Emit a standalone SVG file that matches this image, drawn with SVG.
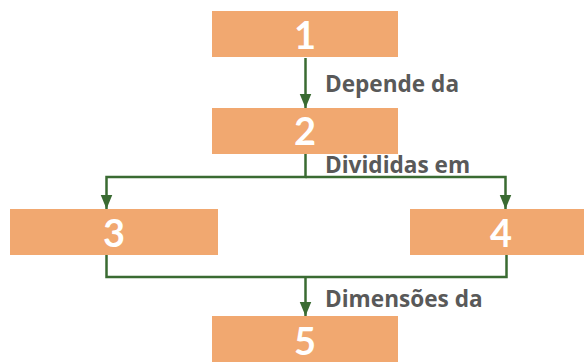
<svg xmlns="http://www.w3.org/2000/svg" width="584" height="362" viewBox="0 0 584 362">
<defs>
<style>
.box{fill:#F1A870}
.num{font-family:Lato,"Open Sans",sans-serif;font-weight:bold;font-size:38px;fill:#ffffff;text-anchor:middle}
.lbl{font-family:"Open Sans",Lato,sans-serif;font-weight:bold;font-size:22.6px;fill:#595959}
.con{fill:none;stroke:#3A6B32;stroke-width:2.5}
</style>
<marker id="ah" markerUnits="userSpaceOnUse" markerWidth="14" markerHeight="18" refX="17" refY="7" orient="auto" viewBox="0 0 17 14">
<path d="M0,0 L17,7 L0,14 Z" fill="#3A6B32"/>
</marker>
</defs>
<rect width="584" height="362" fill="#ffffff"/>
<g id="connectors">
<path class="con" d="M305.5,58 V108" marker-end="url(#ah)"/>
<path class="con" d="M305.5,154 V177 H106.5 V209" marker-end="url(#ah)"/>
<path class="con" d="M305.5,177 H505.5 V209" marker-end="url(#ah)"/>
<path class="con" d="M106.5,255 V277 H506.5 V255"/>
<path class="con" d="M305.5,277 V316" marker-end="url(#ah)"/>
<text class="lbl" x="325" y="92">Depende da</text>
<text class="lbl" x="325" y="173">Divididas em</text>
<text class="lbl" x="325" y="307">Dimensões da</text>
</g>
<g id="node1"><rect class="box" x="212" y="11" width="186" height="46"/><text class="num" x="305" y="49">1</text></g>
<g id="node2"><rect class="box" x="212" y="108" width="186" height="46"/><text class="num" x="305" y="145">2</text></g>
<g id="node3"><rect class="box" x="10" y="209" width="208" height="46"/><text class="num" x="114" y="247">3</text></g>
<g id="node4"><rect class="box" x="410" y="209" width="186" height="46"/><text class="num" x="501" y="247">4</text></g>
<g id="node5"><rect class="box" x="212" y="316" width="186" height="46"/><text class="num" x="305" y="355">5</text></g>
</svg>
